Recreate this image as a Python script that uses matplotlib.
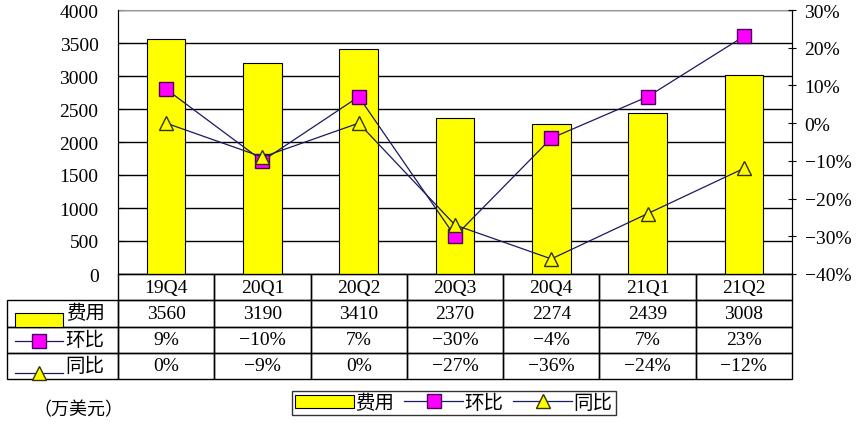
import matplotlib.pyplot as plt
import matplotlib.patches as mpatches
from matplotlib.lines import Line2D
from matplotlib.table import Table
import numpy as np

plt.rcParams['font.family'] = ['Liberation Serif', 'Noto Sans CJK SC']
plt.rcParams['axes.unicode_minus'] = True

# data
quarters = ['19Q4', '20Q1', '20Q2', '20Q3', '20Q4', '21Q1', '21Q2']
cost = [3560, 3190, 3410, 2370, 2274, 2439, 3008]
qoq = [9, -10, 7, -30, -4, 7, 23]      # 环比 %
yoy = [0, -9, 0, -27, -36, -24, -12]   # 同比 %
row_names = ['费用', '环比', '同比']

def pct(v):
    return f"{v}%".replace('-', '\u2212')

fig = plt.figure(figsize=(8.59, 4.39), dpi=100)
ax = fig.add_axes([118/859, 1-275/439, 674/859, 264/439])
x = np.arange(len(quarters))

ax.bar(x, cost, width=0.4, color='#FFFF00', edgecolor='black', linewidth=0.8, zorder=2)
ax.set_xlim(-0.5, len(quarters) - 0.5)
ax.set_ylim(0, 4000)
ax.set_yticks(np.arange(0, 4001, 500))
ax.yaxis.grid(True, color='black', linewidth=1)
ax.set_axisbelow(True)
ax.set_xticks([])
ax.tick_params(axis='y', direction='in', length=4, labelsize=14, pad=14)
ax.spines['top'].set_color('#999999')
for s in ['left', 'right', 'bottom']:
    ax.spines[s].set_color('black')

ax2 = ax.twinx()
ax2.plot(x, qoq, color='#1a1a5e', linewidth=0.9, marker='s', markersize=10,
         markerfacecolor='#FF00FF', markeredgecolor='#4b0060', zorder=3)
ax2.plot(x, yoy, color='#1a1a5e', linewidth=0.9, marker='^', markersize=10,
         markerfacecolor='#FFFF00', markeredgecolor='#333300', zorder=3)
ax2.set_ylim(-40, 30)
ax2.set_yticks(np.arange(-40, 31, 10))
ax2.set_yticklabels([pct(v) for v in range(-40, 31, 10)])
ax2.tick_params(axis='y', direction='inout', length=6, labelsize=14, pad=6)
ax2.spines['top'].set_visible(False)

# data table (bbox covers the data columns; the label column sits to the left)
cell_text = [[str(v) for v in cost], [pct(v) for v in qoq], [pct(v) for v in yoy]]
tbl = Table(ax, bbox=[0, -105/264, 1, 105/264])
col_w = 1 / 7
lab_w = 111 / 674
for j, q in enumerate(quarters):
    tbl.add_cell(0, j, width=col_w, height=0.25, text=q, loc='center')
for i, name in enumerate(row_names):
    c = tbl.add_cell(i + 1, -1, width=lab_w, height=0.25, text=name, loc='right')
    c.PAD = 0.12
    for j in range(len(quarters)):
        tbl.add_cell(i + 1, j, width=col_w, height=0.25, text=cell_text[i][j], loc='center')
tbl.auto_set_font_size(False)
tbl.set_fontsize(14)
for (r, c), cell in tbl.get_celld().items():
    cell.set_edgecolor('black')
    cell.set_linewidth(1)
    cell.set_facecolor('none')
ax.add_table(tbl)

# keys in the table's label column
fig.patches.append(mpatches.Rectangle((15/859, 1-328/439), 48/859, 14/439,
                                      transform=fig.transFigure, facecolor='#FFFF00',
                                      edgecolor='black', linewidth=0.8))
fig.add_artist(Line2D([15/859, 63/859], [1-342/439]*2, color='#1a1a5e', linewidth=0.9))
fig.add_artist(Line2D([39/859], [1-342/439], marker='s', markersize=10,
                      markerfacecolor='#FF00FF', markeredgecolor='#4b0060'))
fig.add_artist(Line2D([15/859, 63/859], [1-374/439]*2, color='#1a1a5e', linewidth=0.9))
fig.add_artist(Line2D([39/859], [1-374/439], marker='^', markersize=10,
                      markerfacecolor='#FFFF00', markeredgecolor='#333300'))

# legend
handles = [mpatches.Patch(facecolor='#FFFF00', edgecolor='black', linewidth=0.8),
           Line2D([], [], color='#1a1a5e', linewidth=0.9, marker='s', markersize=10,
                  markerfacecolor='#FF00FF', markeredgecolor='#4b0060'),
           Line2D([], [], color='#1a1a5e', linewidth=0.9, marker='^', markersize=10,
                  markerfacecolor='#FFFF00', markeredgecolor='#333300')]
leg = fig.legend(handles, row_names, loc='center', bbox_to_anchor=(454/859, 1-404/439),
                 ncol=3, fontsize=14, frameon=True, fancybox=False, handlelength=3,
                 handletextpad=0.1, columnspacing=0.5, borderpad=0.15)
leg.get_frame().set_edgecolor('black')
leg.get_frame().set_linewidth(1)

fig.text(33/859, 1-411/439, '（万美元）', fontsize=13, va='center', ha='left')

fig.savefig('out.png', dpi=100)
